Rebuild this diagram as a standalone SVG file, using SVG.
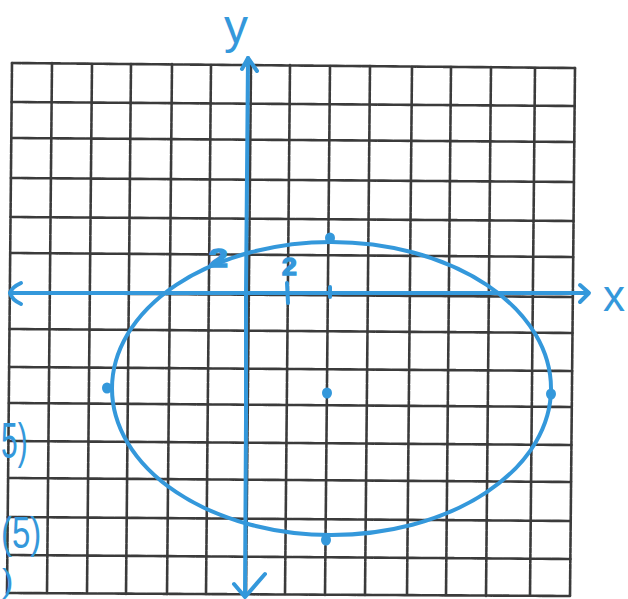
<svg xmlns="http://www.w3.org/2000/svg" width="628" height="599" viewBox="0 0 628 599">
<style>
.grid{stroke:#1a1a1a;stroke-width:2.6;fill:none;stroke-linecap:round;stroke-dasharray:9 1.2 5 1;opacity:.85}
.blue{stroke:#3498db;stroke-width:4;fill:none;stroke-linecap:round;stroke-linejoin:round}
.dot{fill:#3498db}
.lbl{fill:#3498db;font-family:"Liberation Sans",Arial,sans-serif}
.mk{fill:#3498db;stroke:#3498db;stroke-width:1.5;font-family:"Liberation Sans",Arial,sans-serif;font-weight:bold}
</style>
<rect width="628" height="599" fill="#fff"/>
<g id="grid" class="grid">
<path d="M12,63L7,593M52,63L47,593M92,64L87,593M131,64L126,594M172,64L167,594M211,65L206,594M251,65L246,594M290,65L285,594M330,66L325,595M370,66L365,595M412,67L407,595M451,67L446,595M491,67L486,596M535,68L530,596M575,68L570,596"/>
<path d="M12,63L575,68M11.6,102L574.6,106M11.3,138L574.3,142M10.9,178L573.9,182M10.5,217L573.5,221M10.2,253L573.2,257M9.8,293L572.8,297M9.5,329L572.5,333M9.1,367L572.1,371M8.8,403L571.8,407M8.4,441L571.4,445M8.1,478L571.1,482M7.7,517L570.7,521M7.4,555L570.4,559M7,593L570,596"/>
</g>
<g id="connectors">
<g id="x-axis">
<path class="blue" d="M10,293L588,293"/>
<path class="blue" d="M21,283Q12,287 10,293Q12,300 21,304"/>
<path class="blue" d="M580,285L589,293L580,302"/>
</g>
<g id="y-axis">
<path class="blue" d="M248,58L246,293L246,420L245,596"/>
<path class="blue" d="M242,69L248,58L257,71"/>
<path class="blue" d="M234,584L245,597L265,574"/>
</g>
<path id="ticks" class="blue" d="M330,287L330,297M287,283L288,303"/>
</g>
<g id="ellipse">
<ellipse class="blue" cx="331.5" cy="388.5" rx="219.5" ry="146.5"/>
</g>
<g id="points">
<ellipse id="p-top" class="dot" cx="330" cy="238" rx="5" ry="5.5"/>
<ellipse id="p-center" class="dot" cx="327" cy="393" rx="5" ry="5.5"/>
<ellipse id="p-bottom" class="dot" cx="326" cy="540" rx="5" ry="5.5"/>
<ellipse id="p-left" class="dot" cx="107" cy="388" rx="5" ry="5.5"/>
<ellipse id="p-right" class="dot" cx="551" cy="394" rx="5" ry="5.5"/>
</g>
<g id="labels">
<text class="lbl" x="236" y="43" font-size="48" text-anchor="middle">y</text>
<text class="lbl" x="603" y="311" font-size="44">x</text>
<text class="mk" transform="translate(209,267) scale(1.3,1)" x="0" y="0" font-size="26">2</text>
<text class="mk" transform="translate(282,275) scale(1.15,1)" x="0" y="0" font-size="23">2</text>
<text class="lbl" transform="translate(1,458) scale(0.6,1)" x="0" y="0" font-size="50">5)</text>
<text class="lbl" transform="translate(1,548) scale(0.75,1)" x="0" y="0" font-size="44">(5)</text>
<text class="lbl" x="2" y="592" font-size="34">)</text>
</g>
</svg>
